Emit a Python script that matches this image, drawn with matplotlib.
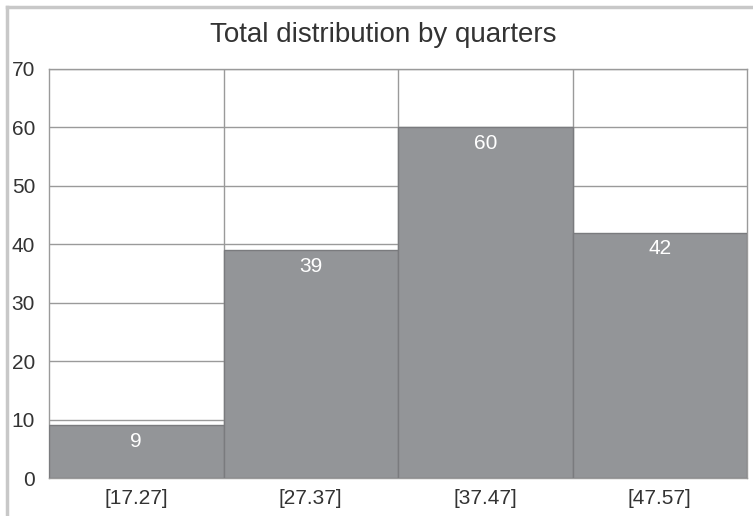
import matplotlib
matplotlib.use("Agg")
import matplotlib.pyplot as plt
from matplotlib.lines import Line2D

categories = ["[17.27]", "[27.37]", "[37.47]", "[47.57]"]
values = [9, 39, 60, 42]
title = "Total distribution by quarters"
yticks = [0, 10, 20, 30, 40, 50, 60, 70]

plt.rcParams['font.family'] = ['Liberation Sans', 'DejaVu Sans']

W, H = 753, 516
fig = plt.figure(figsize=(W / 100, H / 100), dpi=100)
fig.patch.set_facecolor('white')

# plot area in pixel coords
left, right, top, bottom = 49, 747, 69, 478
ax = fig.add_axes([left / W, 1 - bottom / H, (right - left) / W, (bottom - top) / H])

x = list(range(len(categories)))
ax.bar(x, values, width=1.0, color='#939598', edgecolor='#7a7b7e', linewidth=1.0, zorder=3)
ax.set_xlim(-0.5, len(categories) - 0.5)
ax.set_ylim(0, 70)
ax.set_yticks(yticks)
ax.set_yticklabels([str(t) for t in yticks], fontsize=15, color='#333333')
ax.set_xticks(x)
ax.set_xticklabels(categories, fontsize=15, color='#333333')
ax.tick_params(axis='both', length=0, pad=8)
ax.tick_params(axis='y', pad=10)

# grid: horizontal at ticks, vertical at category boundaries
for t in yticks[1:]:
    ax.axhline(t, color='#9a9a9a', linewidth=1.0, zorder=1)
for b in range(1, len(categories)):
    ax.axvline(b - 0.5, color='#9a9a9a', linewidth=1.0, zorder=1)

for s in ax.spines.values():
    s.set_color('#9a9a9a')
    s.set_linewidth(1.0)

for xi, v in zip(x, values):
    ax.annotate(str(v), (xi, v), xytext=(0, -11.5), textcoords='offset points',
                ha='center', va='center', fontsize=15, color='white', zorder=4)

fig.text(383.5 / W, 1 - 35 / H, title, ha='center', va='center',
         fontsize=20, color='#333333')

# outer frame (left and top)
fig.add_artist(Line2D([7 / W, 7 / W], [0, 1 - 7 / H], transform=fig.transFigure,
                      color='#c8c8c8', linewidth=2.5))
fig.add_artist(Line2D([7 / W, 1], [1 - 7 / H, 1 - 7 / H], transform=fig.transFigure,
                      color='#c8c8c8', linewidth=2.5))

fig.savefig("out.png", dpi=100, facecolor='white')
